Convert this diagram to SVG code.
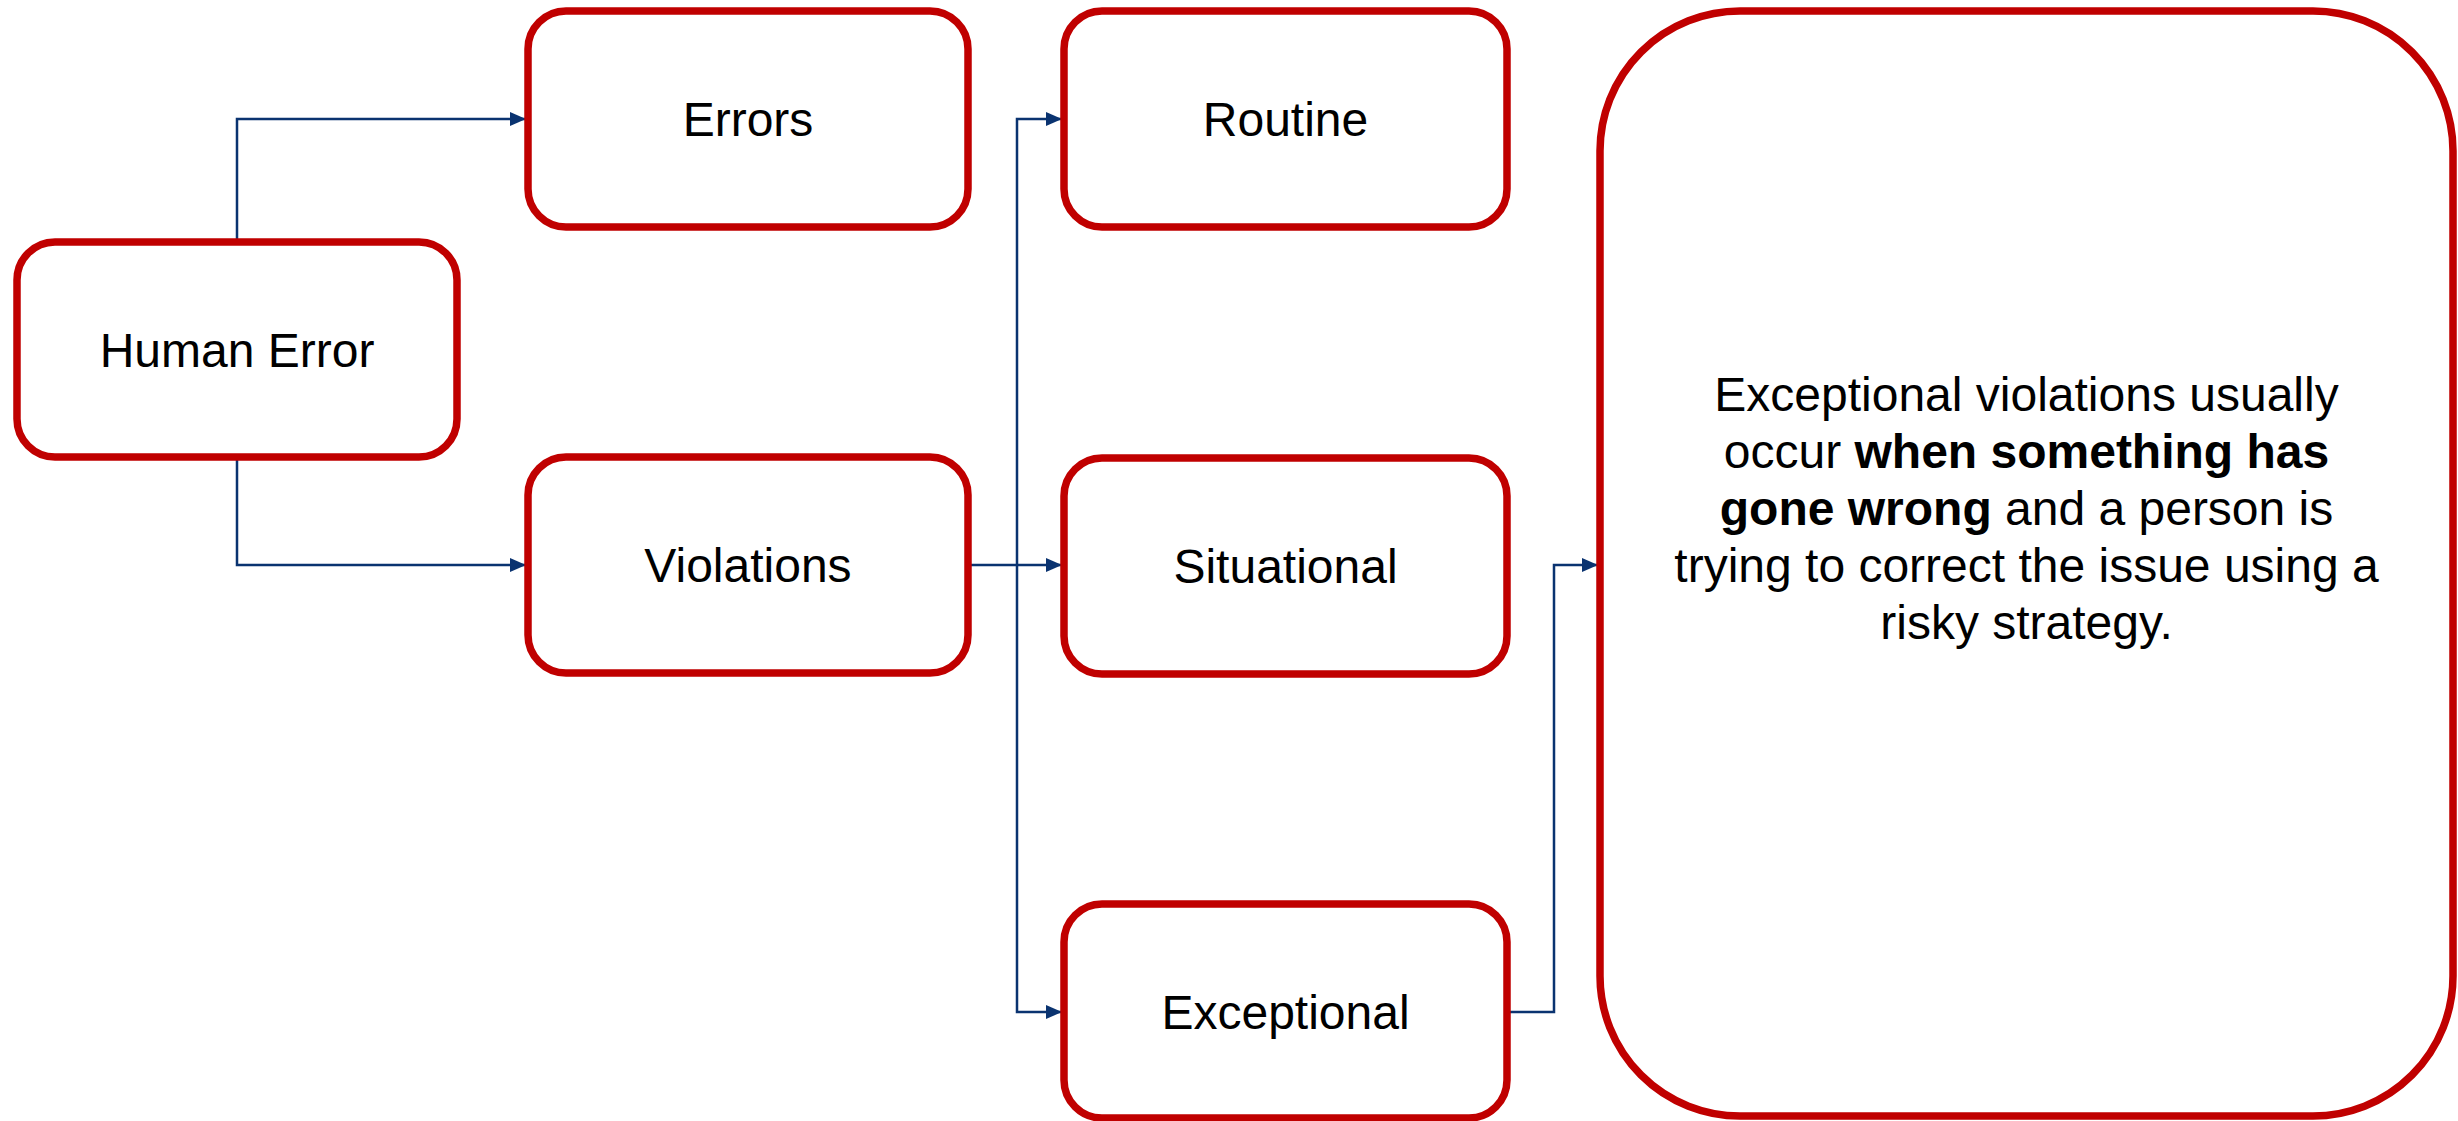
<svg xmlns="http://www.w3.org/2000/svg" width="2458" height="1121" viewBox="0 0 2458 1121">
<style>
.box{fill:#FFFFFF;stroke:#C00000;stroke-width:7.5}
.lbl{font-family:"Liberation Sans",Arial,sans-serif;font-size:48px;fill:#000000;text-anchor:middle}
.con{fill:none;stroke:#0A3370;stroke-width:2.5;stroke-linejoin:miter}
.b{font-weight:bold}
</style>
<defs>
<marker id="arr" markerUnits="userSpaceOnUse" markerWidth="16" markerHeight="14" refX="16" refY="7" orient="auto">
<path d="M0,0 L16,7 L0,14 z" fill="#0A3370"/>
</marker>
</defs>
<rect width="2458" height="1121" fill="#FFFFFF"/>
<g id="connectors">
<path class="con" d="M237 242 V119 H526" marker-end="url(#arr)"/>
<path class="con" d="M237 457 V565 H526" marker-end="url(#arr)"/>
<path class="con" d="M968 565 H1062" marker-end="url(#arr)"/>
<path class="con" d="M1017 565 V119 H1062" marker-end="url(#arr)"/>
<path class="con" d="M1017 565 V1012 H1062" marker-end="url(#arr)"/>
<path class="con" d="M1507 1012 H1554 V565 H1598" marker-end="url(#arr)"/>
</g>
<g id="node-human-error">
<rect class="box" x="17" y="242" width="440" height="215" rx="38" ry="38"/>
<text class="lbl" x="237" y="366.5">Human Error</text>
</g>
<g id="node-errors">
<rect class="box" x="528" y="11" width="440" height="216" rx="38" ry="38"/>
<text class="lbl" x="748" y="136">Errors</text>
</g>
<g id="node-violations">
<rect class="box" x="528" y="457" width="440" height="216" rx="38" ry="38"/>
<text class="lbl" x="748" y="582">Violations</text>
</g>
<g id="node-routine">
<rect class="box" x="1064" y="11" width="443" height="216" rx="38" ry="38"/>
<text class="lbl" x="1285.5" y="136">Routine</text>
</g>
<g id="node-situational">
<rect class="box" x="1064" y="458" width="443" height="216" rx="38" ry="38"/>
<text class="lbl" x="1285.5" y="583">Situational</text>
</g>
<g id="node-exceptional">
<rect class="box" x="1064" y="904" width="443" height="214" rx="38" ry="38"/>
<text class="lbl" x="1285.5" y="1029">Exceptional</text>
</g>
<g id="node-description">
<rect class="box" x="1600" y="11" width="853" height="1105" rx="140" ry="140"/>
<text class="lbl" x="2026.5" y="411">Exceptional violations usually</text>
<text class="lbl" x="2026.5" y="468">occur <tspan class="b">when something has</tspan></text>
<text class="lbl" x="2026.5" y="525"><tspan class="b">gone wrong</tspan> and a person is</text>
<text class="lbl" x="2026.5" y="582">trying to correct the issue using a</text>
<text class="lbl" x="2026.5" y="639">risky strategy.</text>
</g>
</svg>
